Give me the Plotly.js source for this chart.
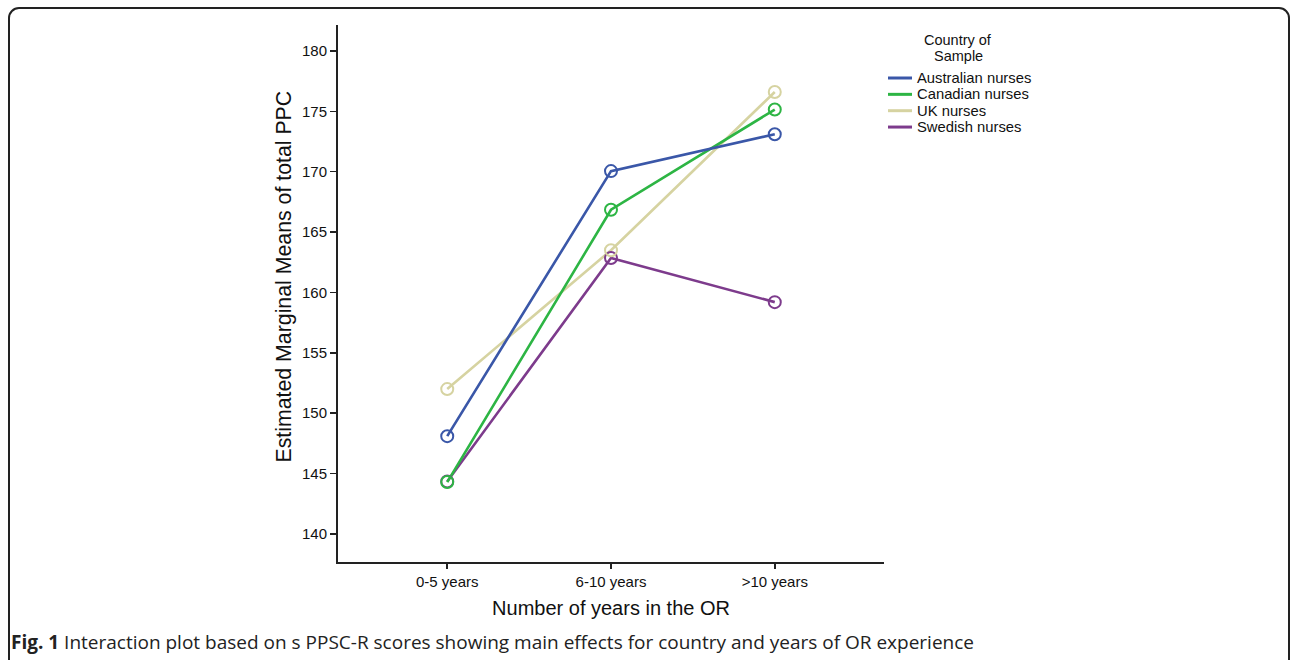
<!DOCTYPE html>
<html>
<head>
<meta charset="utf-8">
<script src="https://cdn.plot.ly/plotly-3.0.1.min.js"></script>
<style>
  html, body { margin: 0; padding: 0; background: #fff; overflow: hidden; }
  #wrap { position: relative; width: 1290px; height: 660px; }
  #chart { position: absolute; left: 0; top: 0; width: 1290px; height: 660px; }
  #frame { position: absolute; left: 8px; top: 7px; width: 1278px; height: 720px;
           border: 2px solid #222; border-radius: 11px; pointer-events: none; }
</style>
</head>
<body>
<div id="wrap">
  <div id="chart"></div>
  <div id="frame"></div>
</div>
<script>
const categories = ["0-5 years", "6-10 years", ">10 years"];
const seriesNames = ["Australian nurses", "Canadian nurses", "UK nurses", "Swedish nurses"];
const australian = [148.1, 170.05, 173.1];
const canadian   = [144.3, 166.85, 175.15];
const uk         = [152.0, 163.5, 176.6];
const swedish    = [144.35, 162.85, 159.2];
const yTicks = [140, 145, 150, 155, 160, 165, 170, 175, 180];
const legendTitleLines = ["Country of", "Sample"];
const xTitle = "Number of years in the OR";
const yTitle = "Estimated Marginal Means of total PPC";

const colors = ["#3a57a8", "#2db544", "#d6d3a1", "#7d3b8c"];
const values = [australian, canadian, uk, swedish];
const xIdx = categories.map((c, i) => i);

// plot-area geometry (pixels) used to place the hand-built legend and y title
const L = 338, R = 406, T = 25, B = 98, W = 1290, H = 660;
const pw = W - L - R, ph = H - T - B;
const px = x => (x - L) / pw;
const py = y => (H - B - y) / ph;

const traces = [];
const order = [3, 2, 1, 0];
order.forEach(k => {
  traces.push({
    x: xIdx, y: values[k], type: "scatter", mode: "lines", name: seriesNames[k],
    line: { color: colors[k], width: 2.6 }, showlegend: false, hoverinfo: "skip"
  });
});
order.forEach(k => {
  traces.push({
    x: xIdx, y: values[k], type: "scatter", mode: "markers", name: seriesNames[k],
    marker: { symbol: "circle-open", size: 12, color: colors[k], line: { width: 2, color: colors[k] } },
    showlegend: false
  });
});

const font = "Liberation Sans, Arial, sans-serif";
const shapes = [];
const annotations = [];
legendTitleLines.forEach((t, i) => {
  annotations.push({
    xref: "paper", yref: "paper", x: px(958), y: py(40 + i * 15.5), xanchor: "center", yanchor: "middle",
    text: t, showarrow: false, font: { size: 14.5, family: font, color: "#111" }
  });
});
seriesNames.forEach((n, k) => {
  const yc = 78 + k * 16.35;
  shapes.push({
    type: "line", xref: "paper", yref: "paper", x0: px(888), x1: px(912), y0: py(yc), y1: py(yc),
    line: { color: colors[k], width: 3 }
  });
  annotations.push({
    xref: "paper", yref: "paper", x: px(915), y: py(yc), xanchor: "left", yanchor: "middle",
    text: n, showarrow: false, font: { size: 14.8, family: font, color: "#111" }
  });
});
annotations.push({
  xref: "paper", yref: "paper", x: px(283), y: py(276.5), xanchor: "center", yanchor: "middle",
  text: yTitle, textangle: -90, showarrow: false, font: { size: 21.3, family: font, color: "#111" }
});

const layout = {
  width: W, height: H,
  margin: { l: L, r: R, t: T, b: B },
  paper_bgcolor: "rgba(0,0,0,0)", plot_bgcolor: "rgba(0,0,0,0)",
  font: { family: font, color: "#111" },
  showlegend: false,
  shapes: shapes,
  annotations: annotations,
  title: {
    text: "<b>Fig. 1</b> Interaction plot based on s PPSC-R scores showing main effects for country and years of OR experience",
    font: { family: "Open Sans, Noto Sans, sans-serif", size: 19, color: "#222" },
    xref: "container", yref: "container", x: 0.0085, xanchor: "left", y: 0.026, yanchor: "middle"
  },
  xaxis: {
    range: [-0.667, 2.667], tickvals: xIdx, ticktext: categories,
    showline: true, linecolor: "#222", linewidth: 2, showgrid: false, zeroline: false,
    ticks: "outside", ticklen: 5, tickwidth: 1.5, tickcolor: "#222",
    tickfont: { size: 15, family: font, color: "#111" },
    title: { text: xTitle, font: { size: 20, family: font, color: "#111" }, standoff: 12 }
  },
  yaxis: {
    range: [137.68, 182.15], tickvals: yTicks,
    showline: true, linecolor: "#222", linewidth: 2, showgrid: false, zeroline: false,
    ticks: "outside", ticklen: 6, tickwidth: 1.5, tickcolor: "#222",
    tickfont: { size: 15, family: font, color: "#111" }
  }
};

Plotly.newPlot("chart", traces, layout, { displayModeBar: false, staticPlot: true });
</script>
</body>
</html>
